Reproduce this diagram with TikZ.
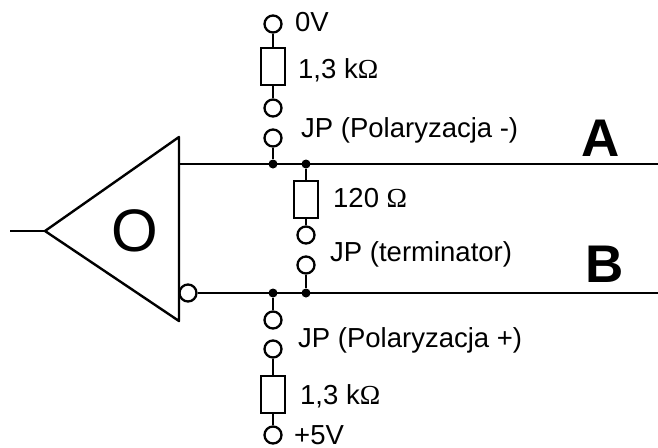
\documentclass[tikz,border=0pt]{standalone}
\usepackage{fontspec}
\setmainfont{Liberation Sans}
\newfontfamily\ohmfont{Liberation Serif}
\newcommand{\ohm}{{\ohmfont Ω}}
\tikzset{
  wire/.style={line width=2.4pt},
  pin/.style={circle,draw,line width=2.3pt,fill=white,inner sep=0pt,minimum size=17pt},
  res/.style={rectangle,draw,line width=2.3pt,inner sep=0pt,minimum width=24pt,minimum height=37pt},
  junction/.style={circle,fill=black,inner sep=0pt,minimum size=9pt},
  lbl/.style={anchor=west,inner sep=0pt,font=\fontsize{27.5}{32}\selectfont},
  bus/.style={inner sep=0pt,font=\fontsize{53}{60}\selectfont\bfseries}
}
\begin{document}
\begin{tikzpicture}[x=1pt,y=-1pt]
  \useasboundingbox (0,0) rectangle (658,447);
  % driver
  \draw[wire,line join=round]
    (179,137) coordinate (top) -- (45,231) coordinate (tip) -- (179,321) coordinate (bot) -- cycle;
  \draw
    (10,231) coordinate (in)
    (179,164) coordinate (outa)
    (658,164) coordinate (enda)
    (658,293) coordinate (endb)
    (134.5,231) node[inner sep=0pt,font=\fontsize{60}{70}\selectfont] (drv){O}
    (188,293) node[pin] (inv){};
  % pins and resistors
  \draw
    (273,24) node[pin] (p0){}
    (273,66.5) node[res] (r1){}
    (273,108) node[pin] (p1){}
    (273,138) node[pin] (p2){}
    (273,164) node[junction] (j1){}
    (306,164) node[junction] (j2){}
    (306,199.5) node[res] (r2){}
    (306,235) node[pin] (p3){}
    (306,265) node[pin] (p4){}
    (306,293) node[junction] (j3){}
    (273,293) node[junction] (j4){}
    (273,320) node[pin] (p5){}
    (273,349) node[pin] (p6){}
    (273,394.5) node[res] (r3){}
    (273,435) node[pin] (p7){};
  % labels
  \draw
    (295,22) node[lbl] (l0){0V}
    (298,70) node[lbl] (l1){1,3 k\ohm}
    (301,130) node[lbl] (l2){JP (Polaryzacja -)}
    (333,198) node[lbl] (l3){120 \ohm}
    (330,254) node[lbl] (l4){JP (terminator)}
    (298,340) node[lbl] (l5){JP (Polaryzacja +)}
    (300,396) node[lbl] (l6){1,3 k\ohm}
    (294,435) node[lbl] (l7){+5V}
    (600.5,138) node[bus] (a){A}
    (604.5,264) node[bus] (b){B};
  \begin{scope}[wire]
    \draw (in) to (tip);
    \draw (outa) to (enda);
    \draw (inv) to (endb);
    \draw (p0) to (r1);
    \draw (r1) to (p1);
    \draw (p2) to (j1);
    \draw (j2) to (r2);
    \draw (r2) to (p3);
    \draw (p4) to (j3);
    \draw (j4) to (p5);
    \draw (p6) to (r3);
    \draw (r3) to (p7);
  \end{scope}
\end{tikzpicture}
\end{document}
